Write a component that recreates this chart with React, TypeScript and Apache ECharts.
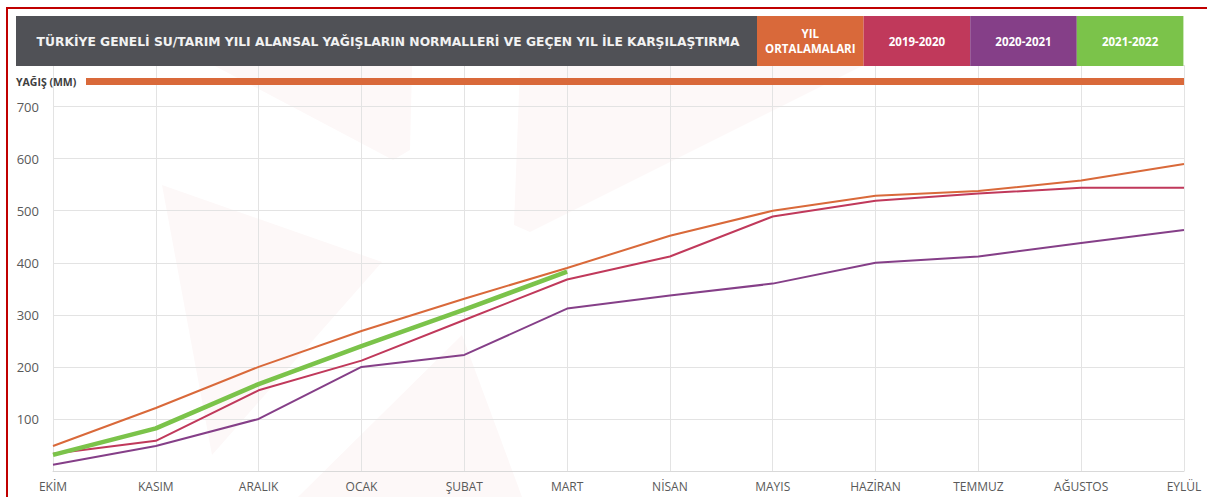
import React, { useEffect, useRef } from "react";
import * as echarts from "echarts";

const months = ["EKİM", "KASIM", "ARALIK", "OCAK", "ŞUBAT", "MART", "NİSAN", "MAYIS", "HAZİRAN", "TEMMUZ", "AĞUSTOS", "EYLÜL"];
const yilOrtalamalari = [48, 121, 200, 269, 331, 390, 452, 500, 529, 538, 558, 590];
const y2019_2020 = [33, 58, 155, 212, 290, 368, 412, 489, 519, 533, 544, 544];
const y2020_2021 = [12, 48, 100, 200, 223, 312, 337, 360, 400, 412, 438, 463];
const y2021_2022 = [31, 82, 167, 240, 310, 383];

const seriesNames = ["YIL\nORTALAMALARI", "2019-2020", "2020-2021", "2021-2022"];
const colors = ["#d9693a", "#c0395b", "#853f88", "#7bc34a"];
const title = "TÜRKİYE GENELİ SU/TARIM YILI ALANSAL YAĞIŞLARIN NORMALLERİ VE GEÇEN YIL İLE KARŞILAŞTIRMA";

const FONT = "'Open Sans', 'DejaVu Sans', sans-serif";

export default function App() {
  const ref = useRef<HTMLDivElement>(null);
  useEffect(() => {
    if (!ref.current) return;
    const chart = echarts.init(ref.current, null, { renderer: "svg" });
    const wm = "#fdf8f8";
    const legendBoxes = seriesNames.map((name, i) => ({
      type: "group",
      children: [
        { type: "rect", shape: { x: 757 + i * 106.6, y: 16, width: 106.6, height: 50 }, style: { fill: colors[i] }, z: 100 },
        {
          type: "text",
          x: 757 + i * 106.6 + 53.3,
          y: 41,
          style: { text: name, fill: "#ffffff", font: `bold 11.5px ${FONT}`, align: "center", verticalAlign: "middle", lineHeight: 15 },
          z: 101,
        },
      ],
    }));
    chart.setOption({
      animation: false,
      backgroundColor: "#ffffff",
      grid: { left: 53, right: 23, top: 65, bottom: 26 },
      xAxis: {
        type: "category",
        data: months,
        boundaryGap: false,
        axisLine: { show: true, lineStyle: { color: "#d9d9d9", width: 1 } },
        axisTick: { show: false },
        axisLabel: { color: "#595959", fontSize: 12, fontFamily: FONT, margin: 9, interval: 0 },
        splitLine: { show: true, lineStyle: { color: "#e3e3e3", width: 1 } },
      },
      yAxis: {
        type: "value",
        min: 0,
        max: 780,
        interval: 100,
        axisLine: { show: false },
        axisTick: { show: false },
        axisLabel: {
          color: "#595959",
          fontSize: 13,
          fontFamily: FONT,
          margin: 14,
          formatter: (v: number) => (v > 0 && v <= 700 ? String(v) : ""),
        },
        splitLine: { show: true, lineStyle: { color: "#e3e3e3", width: 1 } },
      },
      series: [
        { name: seriesNames[0], type: "line", data: yilOrtalamalari, showSymbol: false, symbol: "none", lineStyle: { color: colors[0], width: 2 }, z: 3 },
        { name: seriesNames[1], type: "line", data: y2019_2020, showSymbol: false, symbol: "none", lineStyle: { color: colors[1], width: 2 }, z: 3 },
        { name: seriesNames[2], type: "line", data: y2020_2021, showSymbol: false, symbol: "none", lineStyle: { color: colors[2], width: 2 }, z: 3 },
        { name: seriesNames[3], type: "line", data: y2021_2022, showSymbol: false, symbol: "none", lineStyle: { color: colors[3], width: 4.5 }, z: 4 },
      ],
      graphic: [
        // faint watermark shapes
        { type: "polygon", shape: { points: [[215, 66], [412, 66], [410, 150], [393, 160]] }, style: { fill: wm }, z: -10, silent: true },
        { type: "polygon", shape: { points: [[162, 185], [382, 262], [212, 455]] }, style: { fill: wm }, z: -10, silent: true },
        { type: "polygon", shape: { points: [[462, 335], [298, 497], [522, 497]] }, style: { fill: wm }, z: -10, silent: true },
        { type: "polygon", shape: { points: [[520, 66], [862, 66], [530, 232], [514, 225]] }, style: { fill: wm }, z: -10, silent: true },
        // red frame
        { type: "line", shape: { x1: 6, y1: 8, x2: 1207, y2: 8 }, style: { stroke: "#c00000", lineWidth: 2 }, z: 100 },
        { type: "line", shape: { x1: 7, y1: 7, x2: 7, y2: 497 }, style: { stroke: "#c00000", lineWidth: 2 }, z: 100 },
        // header bar
        { type: "rect", shape: { x: 16, y: 16, width: 741, height: 50 }, style: { fill: "#505156" }, z: 100 },
        {
          type: "text",
          x: 388,
          y: 42,
          style: { text: title, fill: "#f2f2f2", font: `bold 12.3px 'DejaVu Sans', sans-serif`, align: "center", verticalAlign: "middle" },
          z: 101,
        },
        ...legendBoxes,
        // unit label and orange bar
        { type: "text", x: 16, y: 82, style: { text: "YAĞIŞ (MM)", fill: "#404040", font: `bold 10.5px ${FONT}`, align: "left", verticalAlign: "middle" }, z: 100 },
        { type: "rect", shape: { x: 86, y: 78, width: 1098, height: 7 }, style: { fill: "#d9693a" }, z: 100 },
      ],
    });
    return () => chart.dispose();
  }, []);
  return <div ref={ref} style={{ position: "fixed", left: 0, top: 0, width: 1207, height: 497 }} />;
}
